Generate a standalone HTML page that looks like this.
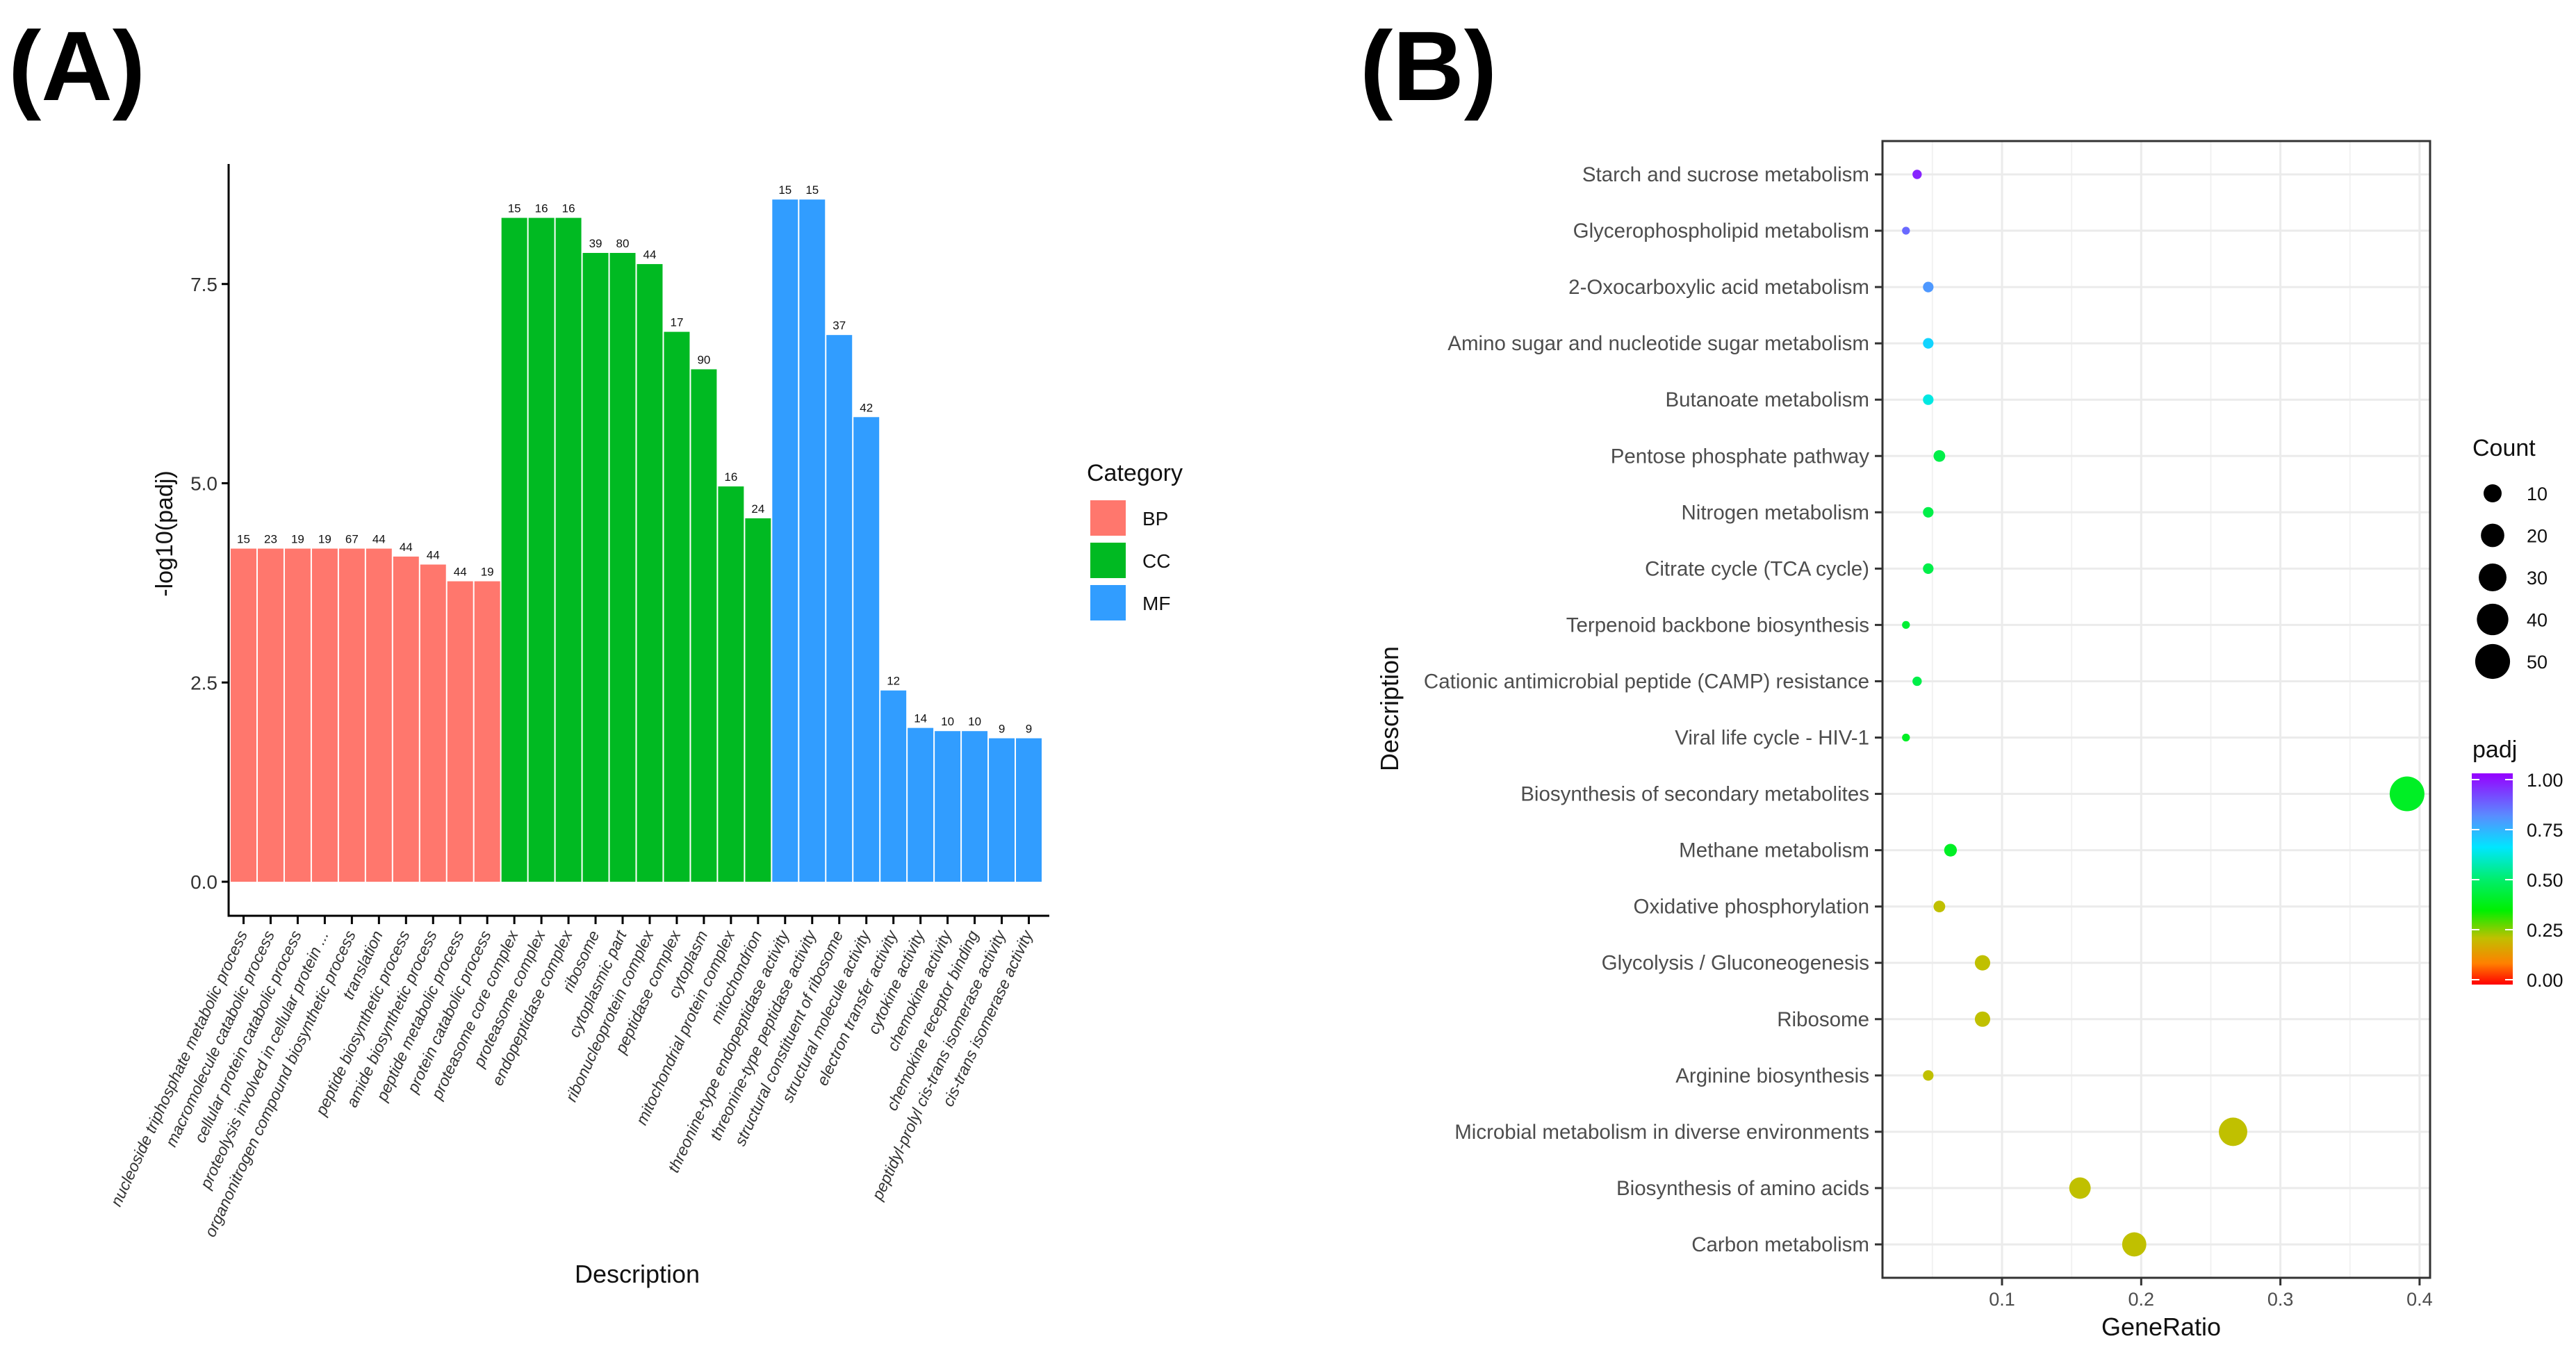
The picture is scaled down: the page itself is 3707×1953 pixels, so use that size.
<!DOCTYPE html>
<html><head><meta charset="utf-8"><style>
html,body{margin:0;padding:0;background:#fff}
svg{display:block;font-family:"Liberation Sans",sans-serif}
</style></head><body>
<svg id="s" width="3707" height="1953" viewBox="0 0 3707 1953" xmlns="http://www.w3.org/2000/svg">
<text x="12" y="144" font-size="142" font-weight="bold">(A)</text>
<text x="1957" y="144" font-size="142" font-weight="bold">(B)</text>
<g id="A"></g>
<g id="B"></g>
</svg>
<script>
const barTerms=["nucleoside triphosphate metabolic process","macromolecule catabolic process","cellular protein catabolic process","proteolysis involved in cellular protein ...","organonitrogen compound biosynthetic process","translation","peptide biosynthetic process","amide biosynthetic process","peptide metabolic process","protein catabolic process","proteasome core complex","proteasome complex","endopeptidase complex","ribosome","cytoplasmic part","ribonucleoprotein complex","peptidase complex","cytoplasm","mitochondrial protein complex","mitochondrion","threonine-type endopeptidase activity","threonine-type peptidase activity","structural constituent of ribosome","structural molecule activity","electron transfer activity","cytokine activity","chemokine activity","chemokine receptor binding","peptidyl-prolyl cis-trans isomerase activity","cis-trans isomerase activity"];
const barCats=["BP","BP","BP","BP","BP","BP","BP","BP","BP","BP","CC","CC","CC","CC","CC","CC","CC","CC","CC","CC","MF","MF","MF","MF","MF","MF","MF","MF","MF","MF"];
const barValues=[4.18,4.18,4.18,4.18,4.18,4.18,4.08,3.98,3.77,3.77,8.33,8.33,8.33,7.89,7.89,7.75,6.90,6.43,4.96,4.56,8.56,8.56,6.86,5.83,2.40,1.93,1.89,1.89,1.80,1.80];
const barCounts=[15,23,19,19,67,44,44,44,44,19,15,16,16,39,80,44,17,90,16,24,15,15,37,42,12,14,10,10,9,9];
const yTicks=[0,2.5,5,7.5];
const yTickLabels=["0.0","2.5","5.0","7.5"];
const catNames=["BP","CC","MF"];
const catColors={BP:"#FF776D",CC:"#00BA22",MF:"#319DFF"};

const dotTerms=["Starch and sucrose metabolism","Glycerophospholipid metabolism","2-Oxocarboxylic acid metabolism","Amino sugar and nucleotide sugar metabolism","Butanoate metabolism","Pentose phosphate pathway","Nitrogen metabolism","Citrate cycle (TCA cycle)","Terpenoid backbone biosynthesis","Cationic antimicrobial peptide (CAMP) resistance","Viral life cycle - HIV-1","Biosynthesis of secondary metabolites","Methane metabolism","Oxidative phosphorylation","Glycolysis / Gluconeogenesis","Ribosome","Arginine biosynthesis","Microbial metabolism in diverse environments","Biosynthesis of amino acids","Carbon metabolism"];
const geneRatio=[0.039,0.031,0.047,0.047,0.047,0.055,0.047,0.047,0.031,0.039,0.031,0.391,0.063,0.055,0.086,0.086,0.047,0.266,0.156,0.195];
const dotCounts=[5,4,6,6,6,7,6,6,4,5,4,50,8,7,11,11,6,34,20,25];
const dotPadj=[0.95,0.85,0.78,0.68,0.62,0.45,0.45,0.45,0.42,0.45,0.40,0.40,0.40,0.22,0.22,0.22,0.22,0.22,0.22,0.22];
const xTicks=[0.1,0.2,0.3,0.4];
const sizeLegend=[10,20,30,40,50];
const padjTicks=[1,0.75,0.5,0.25,0];

const NS="http://www.w3.org/2000/svg";
function mk(parent,tag,attrs,txt){const e=document.createElementNS(NS,tag);for(const k in attrs)e.setAttribute(k,attrs[k]);if(txt!==undefined)e.textContent=txt;parent.appendChild(e);return e;}

// ---------- Panel A ----------
const A=document.getElementById('A');
const aLeft=329,aRight=1510,aBase=1318,aTop=236,plotL=331,plotR=1500;
const y0=1269,unit=114.7;
const ya=v=>y0-v*unit;
const band=(plotR-plotL)/barValues.length;
const xa=i=>plotL+i*band;
barValues.forEach((v,i)=>{
  const r=mk(A,'rect',{x:xa(i)+1,y:ya(v),width:band-2,height:y0-ya(v),fill:catColors[barCats[i]]});
  
  
  const t=mk(A,'text',{x:xa(i)+band/2,y:ya(v)-8,'font-size':17,'text-anchor':'middle',fill:'#111'},barCounts[i]);
  
  
  const cx=xa(i)+band/2;
  const tk=mk(A,'line',{x1:cx,y1:aBase,x2:cx,y2:aBase+12,stroke:'#000','stroke-width':3});
  
  
  const lb=mk(A,'text',{x:cx+6,y:aBase+26,'font-size':23,'font-style':'italic','text-anchor':'end',fill:'#333',transform:`rotate(-65 ${cx+6} ${aBase+26})`},barTerms[i]);
  
  
});
yTicks.forEach((v,i)=>{
  const tk=mk(A,'line',{x1:aLeft-10,y1:ya(v),x2:aLeft,y2:ya(v),stroke:'#000','stroke-width':3});
  
  
  const t=mk(A,'text',{x:aLeft-16,y:ya(v)+10,'font-size':28,'text-anchor':'end',fill:'#333'},yTickLabels[i]);
  
  
});
let ax=mk(A,'line',{x1:aLeft,y1:aTop,x2:aLeft,y2:aBase+1.5,stroke:'#000','stroke-width':3});


ax=mk(A,'line',{x1:aLeft,y1:aBase,x2:aRight,y2:aBase,stroke:'#000','stroke-width':3});


let tt=mk(A,'text',{x:248,y:768,'font-size':34,'text-anchor':'middle',fill:'#111',transform:'rotate(-90 248 768)'},'-log10(padj)');


tt=mk(A,'text',{x:917,y:1846,'font-size':36,'text-anchor':'middle',fill:'#111'},'Description');


tt=mk(A,'text',{x:1564,y:692,'font-size':34,fill:'#111'},'Category');


catNames.forEach((c,i)=>{
  const yy=719+i*61;
  const r=mk(A,'rect',{x:1568,y:yy,width:53,height:53,fill:catColors[c],stroke:'#fff','stroke-width':2});
  
  
  const t=mk(A,'text',{x:1644,y:yy+37,'font-size':28,fill:'#111'},c);
  
  
});

// ---------- Panel B ----------
const B=document.getElementById('B');
const bL=2709,bR=3497,bT=203,bB=1839;
const xb=v=>2881+(v-0.1)*2003;
const yb=i=>251+i*81.05;
const rad=c=>Math.sqrt(32+(c-4)*12.9);
const legRad=c=>Math.sqrt(100+(c-4)*11.5);
const stops=[[0,[255,0,0]],[0.1,[255,128,0]],[0.22,[192,192,0]],[0.35,[0,240,0]],[0.5,[0,238,110]],[0.65,[0,230,255]],[0.8,[90,140,255]],[1,[150,0,255]]];
function col(p){for(let k=1;k<stops.length;k++){if(p<=stops[k][0]){const a=stops[k-1],b=stops[k],t=(p-a[0])/(b[0]-a[0]);return 'rgb('+a[1].map((v,j)=>Math.round(v+(b[1][j]-v)*t)).join(',')+')';}}return 'rgb(150,0,255)';}
let bg=mk(B,'rect',{x:bL,y:bT,width:bR-bL,height:bB-bT,fill:'#fff'});


[0.05,0.15,0.25,0.35].forEach(v=>{const g=mk(B,'line',{x1:xb(v),y1:bT,x2:xb(v),y2:bB,stroke:'#f2f2f2','stroke-width':2});

});
xTicks.forEach(v=>{const g=mk(B,'line',{x1:xb(v),y1:bT,x2:xb(v),y2:bB,stroke:'#ebebeb','stroke-width':3});

});
dotTerms.forEach((d,i)=>{
  const g=mk(B,'line',{x1:bL,y1:yb(i),x2:bR,y2:yb(i),stroke:'#ebebeb','stroke-width':3});
  
  
});
dotTerms.forEach((d,i)=>{
  const tk=mk(B,'line',{x1:bL-11,y1:yb(i),x2:bL,y2:yb(i),stroke:'#333','stroke-width':3});
  
  
  const t=mk(B,'text',{x:bL-19,y:yb(i)+10,'font-size':29.5,'text-anchor':'end',fill:'#4d4d4d'},d);
  
  
  const c=mk(B,'circle',{cx:xb(geneRatio[i]),cy:yb(i),r:rad(dotCounts[i]),fill:col(dotPadj[i])});
  
  
});
xTicks.forEach(v=>{
  const tk=mk(B,'line',{x1:xb(v),y1:bB,x2:xb(v),y2:bB+11,stroke:'#333','stroke-width':3});
  
  
  const t=mk(B,'text',{x:xb(v),y:bB+40,'font-size':27,'text-anchor':'middle',fill:'#4d4d4d'},String(v));
  
  
});
let fr=mk(B,'rect',{x:bL,y:bT,width:bR-bL,height:bB-bT,fill:'none',stroke:'#333','stroke-width':3});


tt=mk(B,'text',{x:2012,y:1020,'font-size':36,'text-anchor':'middle',fill:'#111',transform:'rotate(-90 2012 1020)'},'Description');


tt=mk(B,'text',{x:3110,y:1922,'font-size':36,'text-anchor':'middle',fill:'#111'},'GeneRatio');


tt=mk(B,'text',{x:3558,y:656,'font-size':34,fill:'#111'},'Count');


sizeLegend.forEach((c,i)=>{
  const yy=710+i*60.5;
  const k=mk(B,'circle',{cx:3587,cy:yy,r:legRad(c),fill:'#000'});
  
  
  const t=mk(B,'text',{x:3636,y:yy+10,'font-size':27,fill:'#111'},c);
  
  
});
tt=mk(B,'text',{x:3558,y:1090,'font-size':34,fill:'#111'},'padj');


const defs=mk(B,'defs',{});
const lg=mk(defs,'linearGradient',{id:'pg',x1:0,y1:1,x2:0,y2:0});
stops.forEach(s=>mk(lg,'stop',{offset:s[0],'stop-color':col(s[0]===1?0.9999:s[0])}));
const cbY1=1122,cbY0=1410;
const cb=mk(B,'rect',{x:3557,y:1113,width:59,height:304,fill:'url(#pg)'});


padjTicks.forEach(v=>{
  const yy=cbY0-(cbY0-cbY1)*v;
  const l=mk(B,'line',{x1:3557,y1:yy,x2:3568,y2:yy,stroke:'#fff','stroke-width':2});
  
  
  const l2=mk(B,'line',{x1:3605,y1:yy,x2:3616,y2:yy,stroke:'#fff','stroke-width':2});
  
  
  const t=mk(B,'text',{x:3636,y:yy+10,'font-size':27,fill:'#111'},v.toFixed(2));
  
  
});
</script>
</body></html>
